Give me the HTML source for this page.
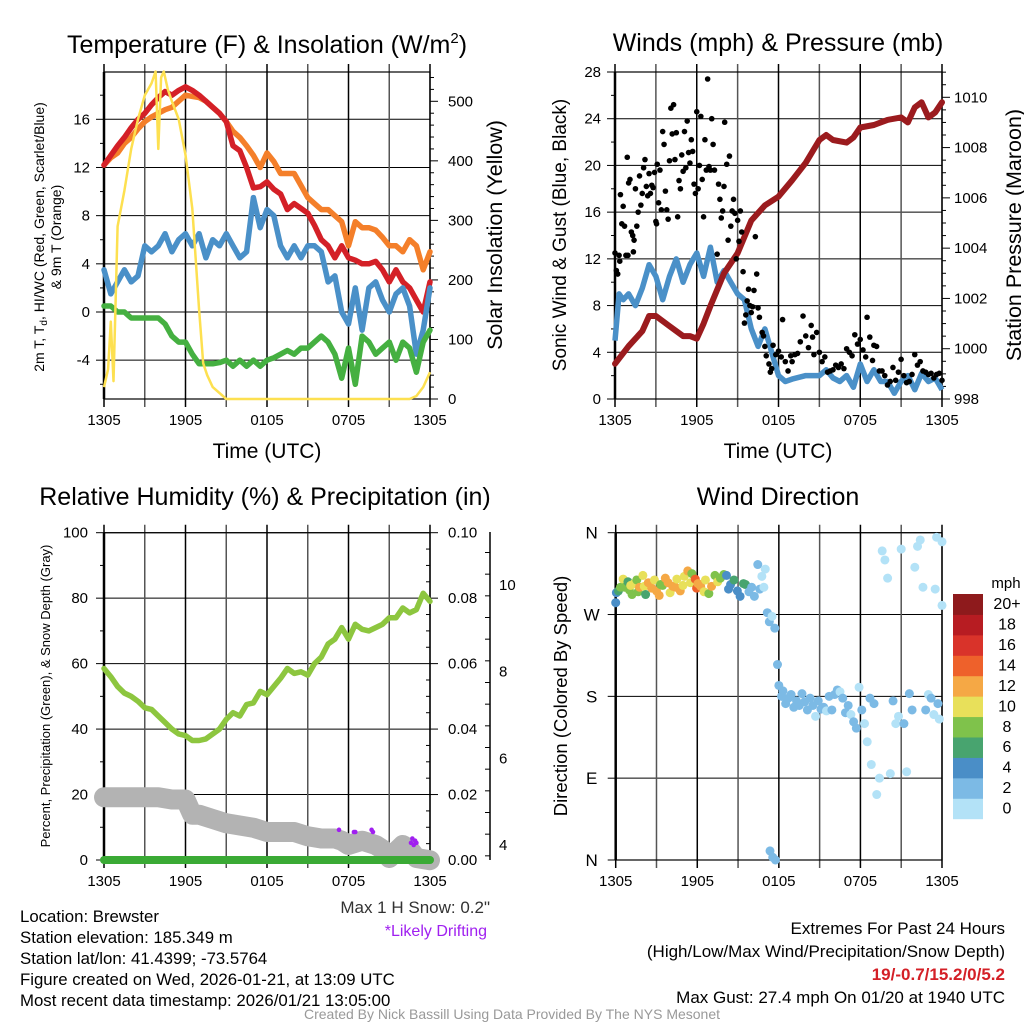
<!DOCTYPE html>
<html><head><meta charset="utf-8"><style>
html,body{margin:0;padding:0;background:#fff}
svg{display:block}
text{font-family:"Liberation Sans",Arial,sans-serif}
</style></head><body>
<svg id="s" width="1024" height="1024" viewBox="0 0 1024 1024" xmlns="http://www.w3.org/2000/svg"></svg>
<script>
// ---------- DATA ----------
const tempHours=[0,0.5,1,1.5,2,2.5,3,3.5,4,4.5,5,5.5,6,6.5,7,7.5,8,8.5,9,9.5,10,10.5,11,11.5,12,12.5,13,13.5,14,14.5,15,15.5,16,16.5,17,17.5,18,18.5,19,19.5,20,20.5,21,21.5,22,22.5,23,23.5,24];
const tempRed=[12.2,13.0,13.8,14.5,15.3,16.0,16.5,17.2,17.8,18.3,18.0,18.4,18.7,18.4,18.0,17.5,17.0,16.5,15.8,13.8,13.4,12.0,10.3,10.4,10.8,10.2,9.8,8.5,9.0,8.6,8.2,7.2,6.0,5.5,4.5,5.5,4.5,4.3,4.0,4.0,4.2,3.5,2.5,3.5,2.5,2.0,1.0,0.0,2.5];
const tempOrange=[12.2,12.8,13.2,14.0,14.5,15.2,15.8,16.2,16.5,16.8,17.0,17.5,18.0,17.9,17.8,17.5,17.0,16.5,15.8,15.0,14.5,13.8,13.0,12.0,13.2,12.5,11.5,11.5,11.5,10.5,9.5,9.0,8.5,8.5,8.0,7.5,5.5,7.5,7.0,7.0,6.8,6.2,5.5,5.5,5.0,6.0,5.5,3.5,5.0];
const tempBlue=[3.5,1.5,2.5,3.5,2.5,3.0,5.5,5.0,5.5,6.5,5.0,6.0,6.5,5.5,6.5,4.5,6.0,5.5,6.5,5.5,4.5,5.0,9.5,7.0,8.5,8.0,5.5,4.5,5.5,4.5,5.5,5.5,5.0,2.5,3.0,0.0,-1.0,2.0,-1.5,2.0,2.5,1.0,0.0,1.5,2.0,0.5,-3.5,-1.5,2.0];
const tempGreen=[0.5,0.5,0.0,0.0,-0.5,-0.5,-0.5,-0.5,-0.5,-1.0,-2.0,-2.5,-2.5,-3.5,-4.3,-4.3,-4.3,-4.2,-4.0,-4.5,-4.0,-4.5,-4.0,-4.5,-4.0,-3.8,-3.5,-3.2,-3.5,-3.0,-3.0,-2.5,-2.0,-2.5,-3.5,-5.5,-3.0,-6.0,-2.0,-2.5,-3.5,-3.0,-2.5,-4.0,-2.5,-3.0,-5.0,-2.5,-1.5];
const solarHours=[0,0.3,0.5,0.7,1,1.5,2,2.5,3,3.5,3.8,4.0,4.2,4.4,4.7,5,5.5,6,6.5,7,7.3,7.6,8,9,22.5,23,23.5,24];
const solarVals=[20,50,130,30,290,350,420,470,510,530,550,420,540,550,520,500,470,410,320,150,60,40,20,0,0,5,20,45];

const windHours=[0,0.3,0.6,1,1.5,2,2.5,3,3.5,4,4.5,5,5.5,6,6.5,7,7.5,8,8.5,9,9.5,10,10.5,11,11.5,12,12.5,13,14,15,15.5,16,16.5,17,17.5,18,18.5,19,19.5,20,20.5,21,21.5,22,22.5,23,23.5,24];
const windSpeed=[5,9,8.5,9,8,9.5,11.5,10.5,8.5,10.5,12,10,11.5,12.5,10.5,13,10,11,10,9,8.5,6,4.5,6,4,2,1.5,1.7,2,2,2.5,1.8,1.5,2,1,3,1.5,2.5,1.5,1.5,0.5,1.5,2,0.8,2.2,1.5,1.8,0.8];
const presHours=[0,1,2,2.5,3,4,5,5.5,6,6.5,7,8,9,10,11,12,13,14,15,15.5,16,17,17.5,18,19,20,21,21.5,22,22.5,23,23.5,24];
const presVals=[999.4,1000.1,1000.7,1001.3,1001.3,1000.9,1000.5,1000.5,1000.4,1001.0,1001.7,1003.0,1003.8,1005.1,1005.7,1006.05,1006.7,1007.4,1008.3,1008.5,1008.3,1008.2,1008.4,1008.8,1008.9,1009.1,1009.2,1009.0,1009.6,1009.8,1009.2,1009.4,1009.8];
const gustHours=[0,0.1,0.2,0.3,0.35,0.4,0.5,0.6,0.7,0.8,0.9,0.95,1.0,1.1,1.2,1.3,1.35,1.4,1.5,1.6,1.7,1.8,1.9,2.0,2.1,2.2,2.3,2.4,2.5,2.6,2.7,2.8,2.9,3.0,3.05,3.1,3.2,3.3,3.4,3.5,3.6,3.7,3.8,3.9,4.0,4.1,4.2,4.3,4.4,4.5,4.6,4.7,4.8,4.9,5.0,5.1,5.2,5.3,5.4,5.5,5.6,5.7,5.8,5.9,6.0,6.1,6.2,6.3,6.4,6.5,6.6,6.7,6.8,6.9,7.0,7.1,7.2,7.3,7.5,7.6,7.7,7.8,7.9,8.0,8.05,8.2,8.3,8.4,8.5,8.6,8.7,8.8,8.9,9.0,9.1,9.2,9.3,9.4,9.5,9.6,9.7,9.8,9.9,10.0,10.1,10.2,10.3,10.4,10.5,10.6,10.8,10.9,11.0,11.1,11.3,11.4,11.5,11.6,11.8,12.0,12.2,12.3,12.5,12.7,12.9,13.0,13.2,13.4,13.6,13.8,14.0,14.2,14.4,14.5,14.6,14.8,15.0,15.2,15.4,15.6,15.8,16.0,16.2,16.4,16.6,16.8,17.0,17.2,17.4,17.6,17.8,18.0,18.2,18.4,18.5,18.7,18.9,19.0,19.2,19.4,19.6,19.8,20.0,20.2,20.4,20.6,20.8,21.0,21.2,21.4,21.6,21.8,22.0,22.2,22.4,22.6,22.8,23.0,23.2,23.4,23.6,23.8,24];
const gustVals=[12.5,11,10.7,12.3,11.8,17.5,15,16.5,14.8,12.3,20.7,12.3,18.5,18.8,14.3,14,12.6,13.6,18,14.8,16,19.1,16.6,17.6,19.8,20.5,18.2,17.4,19.3,17.6,18.3,18.1,19.4,15.2,15,20.1,16.8,19.6,16.2,22.9,21.8,17.8,16.2,15.4,20.4,24.9,22.7,25.2,20.5,22.8,15.6,18.7,18,20.9,19.5,22.9,19.8,23.8,21.1,20.2,22.2,21.2,18.4,17.6,24.6,18,20,24.2,18.8,15.6,22.2,19.6,27.4,19.9,19.6,24.0,21.8,19.6,12.4,18.4,17.1,15.5,16.1,18.2,23.7,20.1,13.6,20.8,14.8,16.1,17.1,15.9,12.0,15.3,13.5,16.1,14.3,10.9,6.5,7.2,8.4,9.4,8.0,7.4,7.9,9.3,13.9,10.7,7.8,7.0,5.7,5.4,4.5,3.7,3.0,2.3,2.6,4.6,3.8,4.1,3.6,6.8,3.2,2.4,3.7,3.2,3.8,3.9,4.9,7.1,5.4,4.4,6.3,5.3,3.8,5.7,4.0,3.2,3.6,2.3,2.4,2.5,2.9,2.7,3.0,2.6,4.3,4.0,3.7,5.5,4.7,5.1,4.2,3.6,7.0,5.3,3.3,4.6,4.5,2.4,2.4,2.0,1.2,1.5,2.7,1.6,2.3,3.4,2.0,1.4,1.5,2.1,3.8,2.9,3.2,2.4,2.3,2.1,2.2,1.8,2.1,2.2,1.6];

const rhHours=[0,0.5,1,1.5,2,2.5,3,3.5,4,4.5,5,5.5,6,6.5,7,7.5,8,8.5,9,9.5,10,10.5,11,11.5,12,12.5,13,13.5,14,14.5,15,15.5,16,16.5,17,17.5,18,18.5,19,19.5,20,20.5,21,21.5,22,22.5,23,23.5,24];
const rhVals=[58.5,56,53,51,50,48.5,46.5,46,44,42,40,38.5,38,36.5,36.5,37,38.5,40,43,45,44,47.5,48,51.5,50.5,53,55.5,58.5,57,57.5,56.5,60,62,66,67.5,71,67.5,72,70.5,70,71,72,74,74,77,75.5,76.5,81.5,79];
const precipHours=[0,24];
const precipVals=[0,0];
const snowHours=[0,4,5,6,6.5,7,8,9,10,11,12,13,14,15,16,17,17.5,18,19,20,20.5,21,22,22.5,23,24];
const snowVals=[5.1,5.1,5.05,5.05,4.7,4.7,4.6,4.5,4.45,4.4,4.3,4.3,4.3,4.2,4.15,4.15,4.1,4.0,4.1,4.0,3.9,3.7,4.0,3.9,3.7,3.65];
const driftHours=[17.3,18.4,18.5,19.7,19.8,22.6,22.7,22.8,22.9,23.0];
const driftVals=[4.35,4.3,4.3,4.35,4.3,4.05,4.15,4.0,4.1,4.05];

const dirHours=[0,0.05,0.2,0.35,0.55,0.65,0.9,1.0,1.1,1.2,1.35,1.55,1.65,1.75,2.0,2.1,2.2,2.4,2.65,2.85,3.0,3.2,3.3,3.45,3.65,3.85,4.0,4.2,4.4,4.5,4.75,4.95,5.05,5.3,5.5,5.6,5.85,5.95,6.05,6.25,6.5,6.6,6.85,7.05,7.3,7.5,7.7,7.95,8.15,8.3,8.45,8.7,8.95,9.15,9.4,9.55,9.8,10.0,10.2,10.45,10.6,10.75,10.9,11.0,11.15,11.3,11.35,11.5,11.55,11.7,11.75,11.9,12.0,12.2,12.3,12.5,12.7,12.9,13.1,13.3,13.5,13.7,13.9,14.1,14.3,14.5,14.7,14.9,15.1,15.3,15.5,15.7,15.9,16.1,16.3,16.5,16.7,16.9,17.1,17.3,17.5,17.7,17.9,18.1,18.3,18.5,18.7,18.8,19.0,19.2,19.4,19.6,19.8,20.0,20.2,20.4,20.6,20.8,21.0,21.2,21.4,21.6,21.8,22.0,22.2,22.4,22.6,22.8,23.0,23.2,23.4,23.5,23.6,23.7,23.8,24.0,24.0];
const dirVals=[283,294,296,300,309,300,306,297,302,292,304,308,295,300,313,301,292,305,299,308,296,291,303,302,310,305,294,301,300,309,296,302,312,318,305,315,309,299,304,301,295,308,293,301,313,306,310,314,313,298,303,308,296,290,304,303,295,300,290,325,298,312,300,320,272,262,10,268,3,255,0,215,192,180,186,172,178,182,168,175,170,183,174,165,178,170,158,175,166,168,164,180,165,182,187,185,178,162,170,160,152,145,190,165,150,130,178,105,172,72,90,340,330,310,95,175,150,158,342,150,97,183,165,322,345,352,300,165,182,178,160,298,355,172,155,280,350,130,340,320,270,155];
const dirSpeed=[4,4,6,8,10,8,6,8,10,8,10,9,9,12,10,11,7,12,12,10,13,12,9,9,12,12,11,12,13,10,12,10,11,12,11,8,15,14,13,13,11,10,8,12,9,10,8,8,5,4,4,6,4,4,6,6,2,3,2,2,3,1,1,1,2,2,2,1,2,3,2,2,2,3,2,2,2,2,3,2,2,2,2,2,2,2,1,2,2,2,1,2,2,2,2,1,2,2,2,1,2,3,1,2,1,1,2,1,2,1,1,1,1,1,1,2,1,1,1,2,1,2,3,1,1,1,1,2,1,3,1,1,1,2,1,1,1,1,5,1,1,1];

const colorBins=["#b3e2f7","#7cbae5","#4a8ec7","#48a46f","#7fc24b","#e8e05a","#f5a845","#ee612b","#d9332a","#b71c22","#8e1a1c"];
const colorLabels=["0","2","4","6","8","10","12","14","16","18","20+"];
const hourTickLabels=["1305","1905","0105","0705","1305"];

// ---------- DRAW ----------
const NS="http://www.w3.org/2000/svg";
const svg=document.getElementById('s');
function el(tag,attrs,parent){const e=document.createElementNS(NS,tag);for(const k in attrs)e.setAttribute(k,attrs[k]);(parent||svg).appendChild(e);return e;}
function txt(x,y,s,size,anchor,extra,parent){const t=el('text',Object.assign({x:x,y:y,'font-size':size,'text-anchor':anchor||'middle',fill:'#000'},extra||{}),parent);t.textContent=s;return t;}
function lin(d0,d1,r0,r1){return v=>r0+(v-d0)*(r1-r0)/(d1-d0);}
function pathFrom(xs,ys,sx,sy){let d='';for(let i=0;i<xs.length;i++){d+=(i?'L':'M')+sx(xs[i]).toFixed(1)+','+sy(ys[i]).toFixed(1);}return d;}

function frame(g,x0,x1,y0,y1,yTicks,sy){
  yTicks.forEach(v=>{const y=sy(v);el('line',{x1:x0,x2:x1,y1:y,y2:y,stroke:'#000','stroke-width':1},g);});
  for(let h=0;h<=24;h+=3){const x=x0+(x1-x0)*h/24;el('line',{x1:x,x2:x,y1:y0-8,y2:y1+8,stroke:(h%6==0)?'#000':'#555','stroke-width':1.5},g);}
  el('rect',{x:x0,y:y0,width:x1-x0,height:y1-y0,fill:'none',stroke:'#000','stroke-width':1.2},g);
  el('line',{x1:x0,x2:x0,y1:y0,y2:y1,stroke:'#000','stroke-width':2.5},g);
  hourTickLabels.forEach((s,i)=>{const x=x0+(x1-x0)*i/4;const t=txt(x,y1+26,s,15,'middle',{},g);});
}

// ===== Panel 1 =====
(function(){
  const g=el('g',{});
  const x0=104,x1=430,y0=72,y1=399;
  const sx=lin(0,24,x0,x1), sy=lin(0,16,312,119.3), sr=lin(0,500,399,101.3);
  frame(g,x0,x1,y0,y1,[-4,0,4,8,12,16],sy);
  for(let v=-6;v<=18;v+=2){const y=sy(v);el('line',{x1:x0-(v%4==0?8:4),x2:x0,y1:y,y2:y,stroke:'#000'},g);}
  [-4,0,4,8,12,16].forEach(v=>{const t=txt(x0-14,sy(v)+5,String(v),15,'end',{},g);});
  for(let v=0;v<=540;v+=20){const y=sr(v);el('line',{x1:x1,x2:x1+(v%100==0?8:4),y1:y,y2:y,stroke:'#000'},g);}
  [0,100,200,300,400,500].forEach(v=>{const t=txt(x1+18,sr(v)+5,String(v),15,'start',{},g);});
  const lines=[[tempHours,tempOrange,'#f47f2a','orange-9m-temp'],[tempHours,tempRed,'#d42027','red-2m-temp'],[tempHours,tempBlue,'#4a90c8','blue-wind-chill'],[tempHours,tempGreen,'#45b041','green-dewpoint']];
  lines.forEach(l=>{const p=el('path',{d:pathFrom(l[0],l[1],sx,sy),fill:'none',stroke:l[2],'stroke-width':5.5,'stroke-linejoin':'round','stroke-linecap':'round'},g);});
  const sp=el('path',{d:pathFrom(solarHours,solarVals,sx,sr),fill:'none',stroke:'#fde050','stroke-width':2.5,'stroke-linejoin':'round'},g);
  
  const t=el('text',{x:267,y:53,'font-size':25,'text-anchor':'middle',fill:'#000'},g);t.innerHTML='Temperature (F) &amp; Insolation (W/m<tspan font-size="15" dy="-10">2</tspan><tspan dy="10">)</tspan>';
  
  const xt=txt(267,458,'Time (UTC)',21,'middle',{},g);
  const l1=el('text',{x:0,y:0,'font-size':14,'text-anchor':'middle',fill:'#000',transform:'translate(44,237) rotate(-90)'},g);
  l1.innerHTML='2m T, T<tspan font-size="10" dy="3">d</tspan><tspan dy="-3">, HI/WC (Red, Green, Scarlet/Blue)</tspan>';
  
  const l2=txt(0,0,'& 9m T (Orange)',14,'middle',{transform:'translate(61,237) rotate(-90)'},g);
  const r=txt(0,0,'Solar Insolation (Yellow)',21.5,'middle',{transform:'translate(502,235) rotate(-90)'},g);
})();

// ===== Panel 2 =====
(function(){
  const g=el('g',{});
  const x0=615,x1=942,y0=72,y1=399;
  const sx=lin(0,24,x0,x1), sy=lin(0,28,399,72), sp=lin(998,1010,399,97.3);
  frame(g,x0,x1,y0,y1,[0,4,8,12,16,20,24,28],sy);
  for(let v=0;v<=28;v+=2){const y=sy(v);el('line',{x1:x0-(v%4==0?8:4),x2:x0,y1:y,y2:y,stroke:'#000'},g);}
  [0,4,8,12,16,20,24,28].forEach(v=>{const t=txt(x0-14,sy(v)+5,String(v),15,'end',{},g);});
  for(let v=998;v<=1011;v+=0.5){const y=sp(v);el('line',{x1:x1,x2:x1+(v%2==0?8:4),y1:y,y2:y,stroke:'#000'},g);}
  [998,1000,1002,1004,1006,1008,1010].forEach(v=>{const t=txt(x1+12,sp(v)+5,String(v),15,'start',{},g);});
  const w=el('path',{d:pathFrom(windHours,windSpeed,sx,sy),fill:'none',stroke:'#4a90c8','stroke-width':5.5,'stroke-linejoin':'round'},g);
  
  const p=el('path',{d:pathFrom(presHours,presVals,sx,sp),fill:'none',stroke:'#9b1b1e','stroke-width':6,'stroke-linejoin':'round','stroke-linecap':'round'},g);
  
  gustHours.forEach((h,i)=>{const c=el('circle',{cx:sx(h),cy:sy(gustVals[i]),r:2.8,fill:'#000'},g);});
  const t=txt(778,51,'Winds (mph) & Pressure (mb)',25,'middle',{},g);
  const xt=txt(778,458,'Time (UTC)',21,'middle',{},g);
  const l=txt(0,0,'Sonic Wind & Gust (Blue, Black)',19,'middle',{transform:'translate(566,235) rotate(-90)'},g);
  const r=txt(0,0,'Station Pressure (Maroon)',21.5,'middle',{transform:'translate(1021,235) rotate(-90)'},g);
})();

// ===== Panel 3 =====
(function(){
  const g=el('g',{});
  const x0=104,x1=430,y0=532.7,y1=860;
  const sx=lin(0,24,x0,x1), sy=lin(0,100,860,532.7), sprc=lin(0,0.1,860,532.7), ss=lin(4,10,845,585);
  frame(g,x0,x1,y0,y1,[0,20,40,60,80,100],sy);
  for(let v=0;v<=100;v+=10){const y=sy(v);el('line',{x1:x0-(v%20==0?8:4),x2:x0,y1:y,y2:y,stroke:'#000'},g);}
  [0,20,40,60,80,100].forEach(v=>{const t=txt(x0-16,sy(v)+5,String(v),15,'end',{},g);});
  for(let i=0;i<=20;i++){const v=i*0.005;const y=sprc(v);el('line',{x1:x1-(i%4==0?0:4),x2:x1+(i%4==0?8:0),y1:y,y2:y,stroke:'#000'},g);}
  [0,0.02,0.04,0.06,0.08,0.10].forEach(v=>{const t=txt(x1+18,sprc(v)+5,v.toFixed(2),15,'start',{},g);});
  const ax=el('line',{x1:490,x2:490,y1:532,y2:860,stroke:'#000','stroke-width':1.5},g);
  for(let v=3.75;v<=11.5;v+=0.5){const y=ss(v);if(y<532||y>860)continue;el('line',{x1:490-(v%2==0?9:5),x2:490,y1:y,y2:y,stroke:'#000'},g);}
  [4,6,8,10].forEach(v=>{const t=txt(499,ss(v)+5,String(v),15,'start',{},g);});
  const sn=el('path',{d:pathFrom(snowHours,snowVals,sx,ss),fill:'none',stroke:'#b3b3b3','stroke-width':20,'stroke-linejoin':'round','stroke-linecap':'round'},g);
  
  const pr=el('path',{d:pathFrom(precipHours,precipVals,sx,sprc),fill:'none',stroke:'#3aaa35','stroke-width':8,'stroke-linecap':'round'},g);
  
  const rh=el('path',{d:pathFrom(rhHours,rhVals,sx,sy),fill:'none',stroke:'#8dc63f','stroke-width':5.5,'stroke-linejoin':'round','stroke-linecap':'round'},g);
  
  driftHours.forEach((h,i)=>{const c=el('circle',{cx:sx(h),cy:ss(driftVals[i]),r:2.3,fill:'#a020f0'},g);});
  const t=txt(265,505,'Relative Humidity (%) & Precipitation (in)',25,'middle',{},g);
  const l=txt(0,0,'Percent, Precipitation (Green), & Snow Depth (Gray)',13,'middle',{transform:'translate(50,696) rotate(-90)'},g);
})();

// ===== Panel 4 =====
(function(){
  const g=el('g',{});
  const x0=615.7,x1=942,y0=532.7,y1=860;
  const sx=lin(0,24,x0,x1), sy=lin(0,360,860,532.7);
  frame(g,x0,x1,y0,y1,[0,90,180,270,360],sy);
  const lbl=['N','E','S','W','N'];
  [0,90,180,270,360].forEach((v,i)=>{const y=sy(v);el('line',{x1:x0-8,x2:x0,y1:y,y2:y,stroke:'#000'},g);const t=txt(x0-24,y+6,lbl[i],17,'middle',{},g);});
  dirHours.forEach((h,i)=>{const b=Math.min(10,Math.floor(dirSpeed[i]/2));const c=el('circle',{cx:sx(h),cy:sy(dirVals[i]),r:4.5,fill:colorBins[b]},g);});
  const t=txt(778,505,'Wind Direction',25,'middle',{},g);
  const l=txt(0,0,'Direction (Colored By Speed)',18.5,'middle',{transform:'translate(567,696) rotate(-90)'},g);
  const cb=el('g',{},g);
  const cy0=594,ch=(818.7-594)/11;
  colorBins.forEach((c,i)=>{const y=cy0+(10-i)*ch;const r=el('rect',{x:953,y:y,width:30,height:ch+0.5,fill:c},cb);
    const tl=txt(1007,y+ch/2+5,colorLabels[i],16,'middle',{},cb);});
  const m=txt(1006,588,'mph',15,'middle',{},cb);
})();

// ===== Footer texts =====
(function(){
  const g=el('g',{});
  const left=['Location: Brewster','Station elevation: 185.349 m','Station lat/lon: 41.4399; -73.5764','Figure created on Wed, 2026-01-21, at 13:09 UTC','Most recent data timestamp: 2026/01/21 13:05:00'];
  left.forEach((s,i)=>{const t=txt(20,922+i*21,s,16.8,'start',{},g);});
  const a=txt(490,913,'Max 1 H Snow: 0.2"',17,'end',{fill:'#333'},g);
  const b=txt(487,936,'*Likely Drifting',16,'end',{fill:'#a020f0'},g);
  const r=[['Extremes For Past 24 Hours',{}],['(High/Low/Max Wind/Precipitation/Snow Depth)',{}],['19/-0.7/15.2/0/5.2',{fill:'#d42027','font-weight':'bold'}],['Max Gust: 27.4 mph On 01/20 at 1940 UTC',{}]];
  r.forEach((o,i)=>{const t=txt(1005,934+i*23,o[0],17,'end',o[1],g);});
  const f=txt(512,1019,'Created By Nick Bassill Using Data Provided By The NYS Mesonet',14,'middle',{fill:'#999'},g);
})();
</script>
</body></html>
